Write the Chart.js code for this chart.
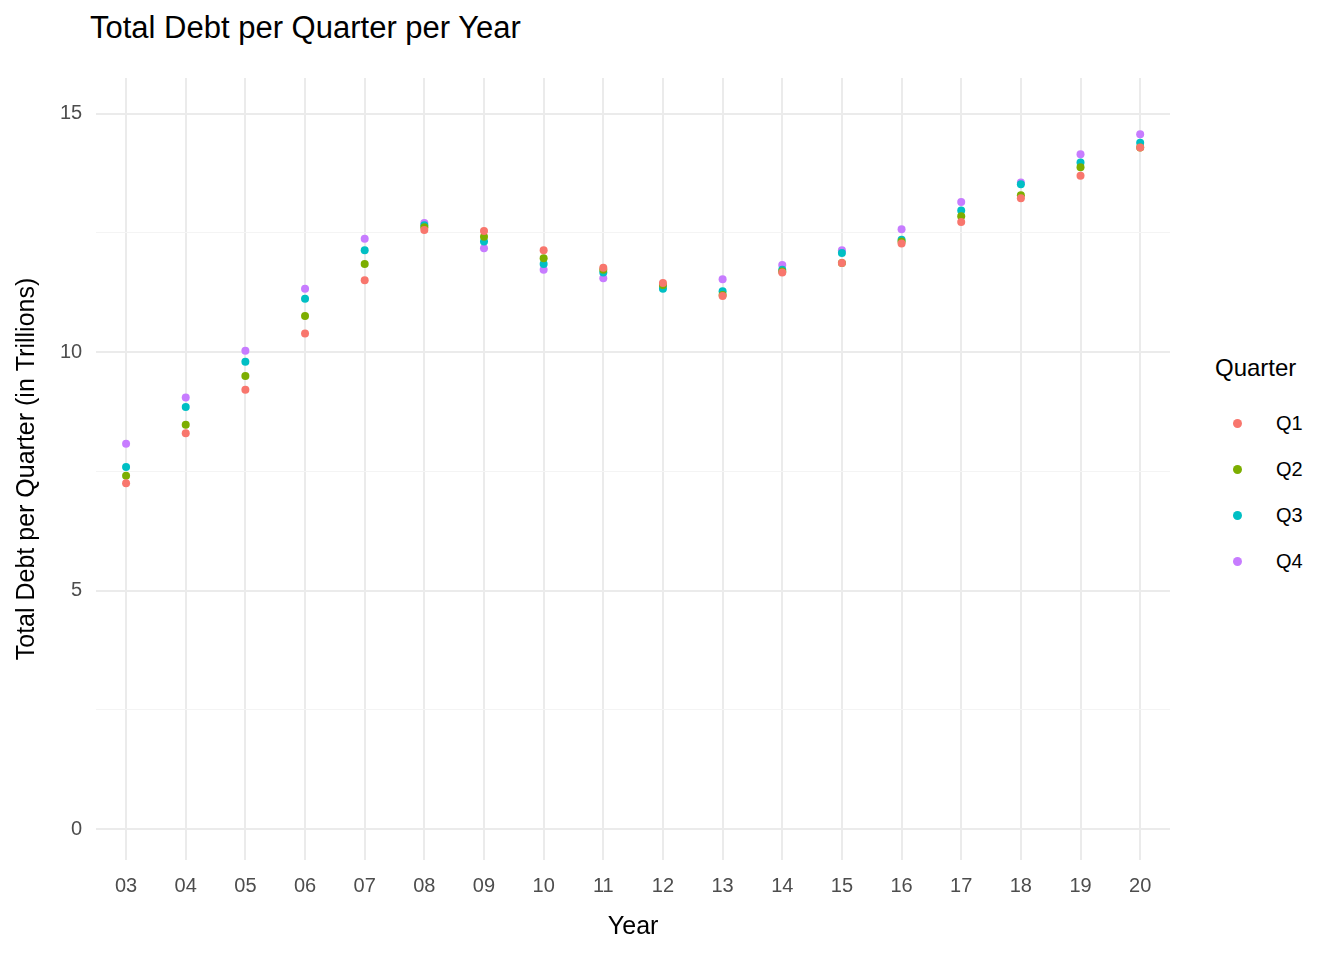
<!DOCTYPE html>
<html>
<head>
<meta charset="utf-8">
<script src="https://cdn.jsdelivr.net/npm/chart.js@4"></script>
<style>
  body { margin: 0; background: #fff; font-family: Arial, "Liberation Sans", sans-serif; }
  #wrap { width: 1344px; height: 960px; position: relative; }
  #title { position: absolute; left: 90px; top: 10px; font-size: 31px; color: #000; }
  #cbox { position: absolute; left: 0; top: 52px; width: 1180px; height: 908px; }
  #legend { position: absolute; left: 1215px; top: 354px; color: #000; }
  #legend .lt { font-size: 24px; margin-bottom: 18px; }
  #legend .it { font-size: 20px; height: 46px; display: flex; align-items: center; }
  #legend .dot { width: 9px; height: 9px; border-radius: 50%; margin-left: 18px; margin-right: 34px; }
</style>
</head>
<body>
<div id="wrap">
  <div id="title">Total Debt per Quarter per Year</div>
  <div id="cbox"><canvas id="c"></canvas></div>
  <div id="legend"></div>
</div>
<script>
// Data (trillions)
const years = ['03','04','05','06','07','08','09','10','11','12','13','14','15','16','17','18','19','20'];
const q1 = [7.25, 8.30, 9.21, 10.39, 11.51, 12.56, 12.54, 12.14, 11.77, 11.45, 11.18, 11.67, 11.87, 12.28, 12.73, 13.23, 13.70, 14.29];
const q2 = [7.41, 8.48, 9.50, 10.76, 11.85, 12.62, 12.42, 11.97, 11.73, 11.41, 11.20, 11.69, 11.87, 12.32, 12.85, 13.29, 13.88, 14.29];
const q3 = [7.59, 8.85, 9.80, 11.12, 12.14, 12.66, 12.32, 11.85, 11.67, 11.33, 11.28, 11.73, 12.08, 12.36, 12.97, 13.52, 13.98, 14.39];
const q4 = [8.08, 9.05, 10.03, 11.33, 12.38, 12.71, 12.18, 11.73, 11.55, 11.37, 11.53, 11.83, 12.14, 12.58, 13.15, 13.56, 14.15, 14.57];
const quarters = ['Q1', 'Q2', 'Q3', 'Q4'];
const colors = ['#F8766D', '#7CAE00', '#00BFC4', '#C77CFF'];

const font = 'Arial, "Liberation Sans", sans-serif';
const ds = [q1, q2, q3, q4].map((vals, i) => ({
  label: quarters[i],
  data: vals,
  showLine: false,
  pointRadius: 4,
  pointHoverRadius: 4,
  pointBackgroundColor: colors[i],
  pointBorderWidth: 0,
  borderColor: colors[i],
  backgroundColor: colors[i]
}));

// legend
const leg = document.getElementById('legend');
leg.innerHTML = '<div class="lt">Quarter</div>' + quarters.map((q, i) =>
  `<div class="it"><span class="dot" style="background:${colors[i]}"></span>${q}</div>`).join('');

new Chart(document.getElementById('c'), {
  type: 'line',
  data: { labels: years, datasets: ds },
  options: {
    responsive: true,
    maintainAspectRatio: false,
    animation: false,
    layout: { padding: { left: 8, right: 10, top: 10, bottom: 14 } },
    plugins: { legend: { display: false }, tooltip: { enabled: false } },
    scales: {
      x: {
        offset: true,
        grid: { color: '#ebebeb', lineWidth: 2, drawTicks: false, offset: false },
        border: { display: false },
        ticks: { color: '#4d4d4d', font: { family: font, size: 20 }, padding: 14 },
        title: { display: true, text: 'Year', color: '#000', font: { family: font, size: 25 }, padding: { top: 0 } }
      },
      y: {
        min: -0.65, max: 15.75,
        afterBuildTicks: (s) => { s.ticks = [0, 2.5, 5, 7.5, 10, 12.5, 15].map(v => ({ value: v })); },
        grid: {
          color: (ctx) => (ctx.tick && ctx.tick.value % 5 === 0) ? '#ebebeb' : '#f4f4f4',
          lineWidth: (ctx) => (ctx.tick && ctx.tick.value % 5 === 0) ? 2 : 1,
          drawTicks: false
        },
        border: { display: false },
        ticks: {
          color: '#4d4d4d', font: { family: font, size: 20 }, padding: 14,
          callback: (v) => v % 5 === 0 ? v : ''
        },
        title: { display: true, text: 'Total Debt per Quarter (in Trillions)', color: '#000', font: { family: font, size: 25 } }
      }
    }
  }
});
</script>
</body>
</html>
